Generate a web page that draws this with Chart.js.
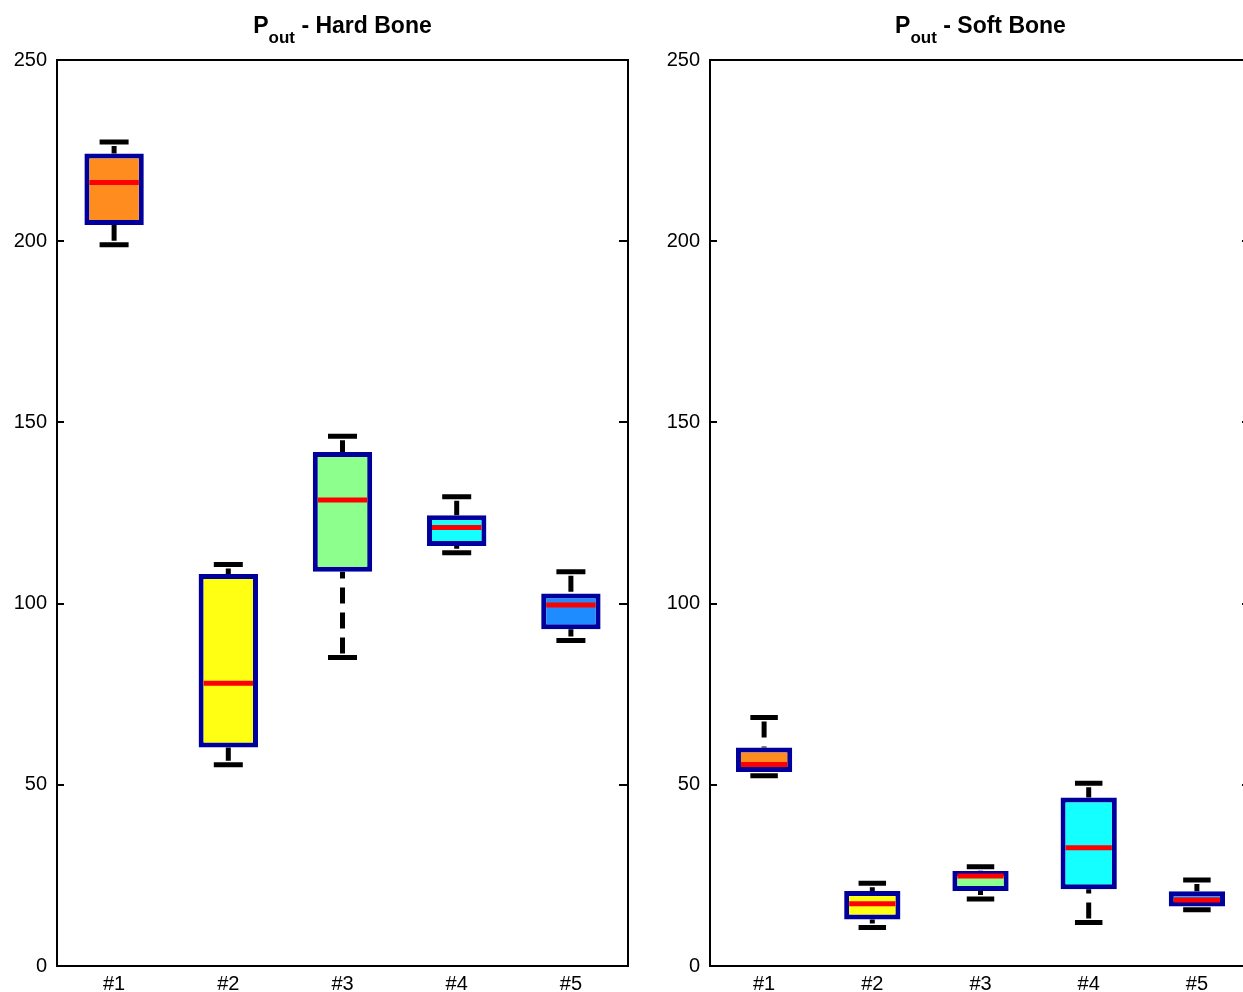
<!DOCTYPE html>
<html>
<head>
<meta charset="utf-8">
<title>Pout boxplots</title>
<script src="https://cdn.jsdelivr.net/npm/chart.js@4.4.1/dist/chart.umd.min.js"></script>
<style>
  html, body { margin: 0; padding: 0; background: #fff; overflow: hidden; }
  #wrap { position: relative; width: 1243px; height: 992px; overflow: hidden; }
  canvas { position: absolute; top: 0; }
  #hard { left: 0; }
  #soft { left: 640px; }
</style>
</head>
<body>
<div id="wrap">
  <canvas id="hard" width="640" height="992"></canvas>
  <canvas id="soft" width="620" height="992"></canvas>
</div>
<script>
// data
var categories = ['#1', '#2', '#3', '#4', '#5'];
var yTicks = [0, 50, 100, 150, 200, 250];

var hardLow    = [199.0,  55.5,  85.1, 114.0,  89.8];
var hardQ1     = [204.5,  60.3, 108.8, 115.9,  92.9];
var hardMedian = [216.2,  78.0, 128.6, 121.0,  99.6];
var hardQ3     = [224.2, 108.2, 141.8, 124.4, 102.8];
var hardHigh   = [227.4, 110.8, 146.2, 129.5, 108.8];

var softLow    = [52.5, 10.6, 18.5, 12.0, 15.5];
var softQ1     = [53.5, 12.8, 20.7, 21.2, 16.4];
var softMedian = [55.6, 17.2, 24.8, 32.6, 18.2];
var softQ3     = [60.3, 20.7, 26.2, 46.5, 20.6];
var softHigh   = [68.6, 22.8, 27.4, 50.4, 23.7];

var boxColors = ['#FF8C1E', '#FFFF14', '#8CFF8C', '#14FFFF', '#1E8CFF'];

Chart.defaults.font.family = "'Liberation Sans', Arial, sans-serif";
Chart.defaults.color = '#000';

function unit(ctx) {
	var ca = ctx.chart.chartArea;
	return ca ? ca.width / categories.length : 100;
}

// title with subscript "out"
var subTitle = {
	id: 'subTitle',
	afterDraw: function(chart, args, opts) {
		var c = chart.ctx, ca = chart.chartArea;
		var big = "bold 23px 'Liberation Sans', Arial, sans-serif";
		var small = "bold 17px 'Liberation Sans', Arial, sans-serif";
		c.save();
		c.fillStyle = '#000';
		c.textBaseline = 'alphabetic';
		c.font = big;
		var wP = c.measureText('P').width;
		var wRest = c.measureText(' - ' + opts.text).width;
		c.font = small;
		var wSub = c.measureText('out').width;
		var x = (ca.left + ca.right) / 2 - (wP + wSub + wRest) / 2;
		c.font = big;
		c.fillText('P', x, 33);
		c.font = small;
		c.fillText('out', x + wP, 43);
		c.font = big;
		c.fillText(' - ' + opts.text, x + wP + wSub, 33);
		c.restore();
	}
};

// axes box with inward ticks
var frame = {
	id: 'frame',
	afterDraw: function(chart) {
		var c = chart.ctx, ca = chart.chartArea, y = chart.scales.y;
		c.save();
		c.strokeStyle = '#000';
		c.lineWidth = 2;
		c.strokeRect(ca.left, ca.top, ca.right - ca.left, ca.bottom - ca.top);
		y.ticks.forEach(function(t) {
			var py = Math.round(y.getPixelForValue(t.value));
			c.beginPath();
			c.moveTo(ca.left, py);
			c.lineTo(ca.left + 7, py);
			c.moveTo(ca.right, py);
			c.lineTo(ca.right - 9, py);
			c.stroke();
		});
		c.restore();
	}
};

function whiskerPoints(q1, q3, lo, hi) {
	var pts = [];
	categories.forEach(function(cat, i) {
		pts.push({x: cat, y: hi[i]}, {x: cat, y: q3[i]}, {x: cat, y: null});
		pts.push({x: cat, y: lo[i]}, {x: cat, y: q1[i]}, {x: cat, y: null});
	});
	return pts;
}

function makeChart(id, title, lo, q1, med, q3, hi, axisWidth, padRight) {
	return new Chart(document.getElementById(id), {
		type: 'bar',
		data: {
			labels: categories,
			datasets: [
				{
					type: 'line',
					data: whiskerPoints(q1, q3, lo, hi),
					borderColor: '#000',
					borderWidth: 5,
					borderDash: [16, 9],
					borderDashOffset: -4,
					borderCapStyle: 'butt',
					pointRadius: 0,
					spanGaps: false,
					order: 4
				},
				{
					data: categories.map(function(c, i) { return [q1[i], q3[i]]; }),
					backgroundColor: boxColors,
					borderColor: '#00009C',
					borderWidth: 5,
					borderSkipped: false,
					barPercentage: 0.52,
					categoryPercentage: 1,
					order: 3
				},
				{
					type: 'line',
					data: med,
					showLine: false,
					pointStyle: 'line',
					pointBorderColor: '#FF0000',
					pointBorderWidth: 5,
					pointRadius: function(ctx) { return unit(ctx) * 0.26 - 5; },
					order: 1
				},
				{
					type: 'line',
					data: hi,
					showLine: false,
					pointStyle: 'line',
					pointBorderColor: '#000',
					pointBorderWidth: 5,
					pointRadius: function(ctx) { return unit(ctx) * 0.127; },
					order: 2
				},
				{
					type: 'line',
					data: lo,
					showLine: false,
					pointStyle: 'line',
					pointBorderColor: '#000',
					pointBorderWidth: 5,
					pointRadius: function(ctx) { return unit(ctx) * 0.127; },
					order: 2
				}
			]
		},
		options: {
			responsive: false,
			animation: false,
			events: [],
			layout: {
				autoPadding: false,
				padding: { top: 60, right: padRight, left: 0, bottom: 0 }
			},
			plugins: {
				legend: { display: false },
				tooltip: { enabled: false },
				subTitle: { text: title }
			},
			scales: {
				x: {
					offset: true,
					grid: { display: false, drawTicks: false },
					border: { display: false },
					ticks: { font: { size: 20 }, padding: 6 },
					afterFit: function(s) { s.height = 26; }
				},
				y: {
					min: 0,
					max: 250,
					afterBuildTicks: function(s) {
						s.ticks = yTicks.map(function(v) { return { value: v }; });
					},
					grid: { display: false, drawTicks: false },
					border: { display: false },
					ticks: { font: { size: 20 }, padding: 10 },
					afterFit: function(s) { s.width = axisWidth; }
				}
			}
		},
		plugins: [subTitle, frame]
	});
}

makeChart('hard', 'Hard Bone', hardLow, hardQ1, hardMedian, hardQ3, hardHigh, 57, 12);
makeChart('soft', 'Soft Bone', softLow, softQ1, softMedian, softQ3, softHigh, 70, 9);
</script>
</body>
</html>
